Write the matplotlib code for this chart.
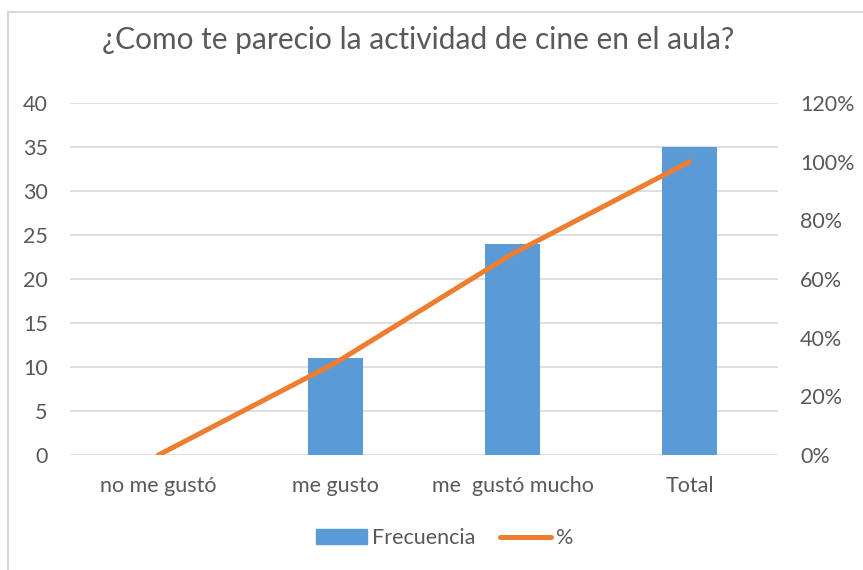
import matplotlib
matplotlib.use("Agg")
import matplotlib.pyplot as plt
from matplotlib.lines import Line2D
from matplotlib.patches import Patch
import numpy as np

plt.rcParams['font.family'] = ['Lato', 'DejaVu Sans']

categories = ["no me gustó", "me gusto", "me  gustó mucho", "Total"]
frecuencia = [0, 11, 24, 35]
porcentaje = [0.0, 0.314, 0.686, 1.0]

bar_color = "#5B9BD5"
line_color = "#ED7D31"
text_color = "#595959"
grid_color = "#D9D9D9"
fs = 15.5

fig = plt.figure(figsize=(8.63, 5.70), dpi=100)
ax = fig.add_axes([0.0811, 0.2018, 0.8204, 0.6175])
x = np.arange(len(categories))

ax.bar(x, frecuencia, width=0.31, color=bar_color, zorder=2)
ax.set_xlim(-0.5, len(categories) - 0.5)
ax.set_ylim(0, 40)
ax.set_yticks(range(0, 41, 5))
ax.yaxis.grid(True, color=grid_color, linewidth=1.2, zorder=0)
ax.set_axisbelow(True)
for s in ax.spines.values():
    s.set_visible(False)
ax.set_xticks(x)
ax.set_xticklabels(categories)
ax.tick_params(axis="both", length=0, labelsize=fs, colors=text_color)
ax.tick_params(axis="x", pad=15)
ax.tick_params(axis="y", pad=16)

ax2 = ax.twinx()
ax2.plot(x, porcentaje, color=line_color, linewidth=3.6,
         solid_capstyle="round", zorder=3)
ax2.set_ylim(0, 1.2)
ax2.set_yticks(np.arange(0, 1.21, 0.2))
ax2.set_yticklabels(["{:.0f}%".format(v * 100) for v in np.arange(0, 1.21, 0.2)])
ax2.tick_params(axis="y", length=0, labelsize=fs, colors=text_color, pad=16)
for s in ax2.spines.values():
    s.set_visible(False)

fig.text(0.4844, 0.93, "¿Como te parecio la actividad de cine en el aula?",
         ha="center", va="center", fontsize=21.5, color=text_color)

handles = [Patch(color=bar_color, label="Frecuencia"),
           Line2D([0], [0], color=line_color, linewidth=3.6,
                  solid_capstyle="round", label="%")]
fig.legend(handles=handles, loc="center", bbox_to_anchor=(0.515, 0.056),
           ncol=2, frameon=False, fontsize=fs, labelcolor=text_color,
           handlelength=2.4, handletextpad=0.2, columnspacing=1.15)

# chart frame: only top and left edges visible
top = 1 - 12 / 570
left = 8 / 863
fig.add_artist(Line2D([left, 1], [top, top], transform=fig.transFigure,
                      color=grid_color, linewidth=1.5))
fig.add_artist(Line2D([left, left], [0, top], transform=fig.transFigure,
                      color=grid_color, linewidth=1.5))

fig.savefig("out.png", dpi=100)
